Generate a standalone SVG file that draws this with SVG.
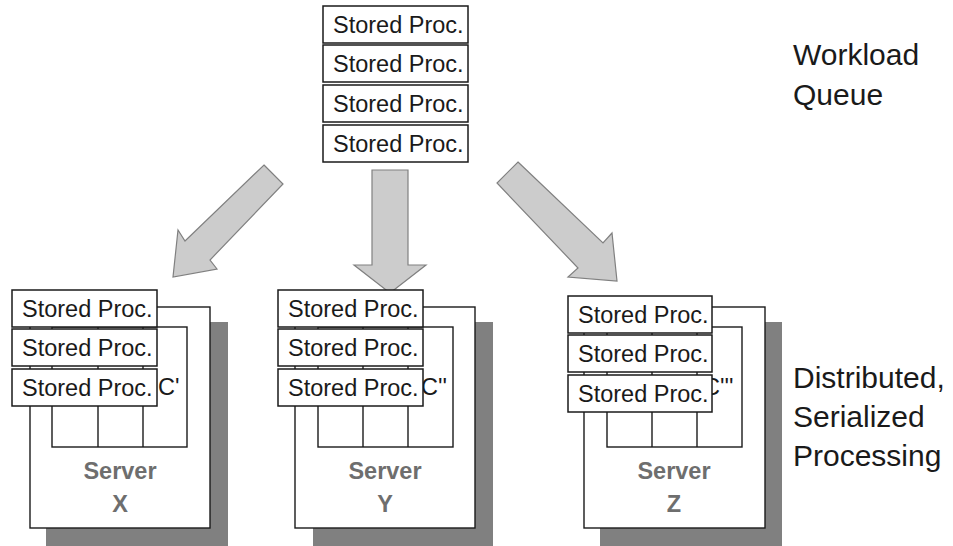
<svg xmlns="http://www.w3.org/2000/svg" width="953" height="546" viewBox="0 0 953 546">
<style>
.bg{fill:#ffffff}
.sp rect{fill:#ffffff;stroke:#1a1a1a;stroke-width:1.5}
.sp text,.lbl{font-family:"Liberation Sans",Arial,sans-serif;fill:#1a1a1a}
.sp text{font-size:23.5px}
.shadow{fill:#808080}
.srv{fill:#ffffff;stroke:#1a1a1a;stroke-width:1.4}
.inner{fill:#ffffff;stroke:#1a1a1a;stroke-width:1.4}
.div{stroke:#1a1a1a;stroke-width:1.4}
.ctext{font-family:"Liberation Sans",Arial,sans-serif;font-size:23.5px;fill:#1a1a1a}
.stxt{font-family:"Liberation Sans",Arial,sans-serif;font-size:23.5px;font-weight:bold;fill:#6e6e6e;text-anchor:middle}
.lbl{font-size:30px}
.arrow{fill:#cccccc;stroke:#808080;stroke-width:1.2;stroke-linejoin:miter}
</style>
<rect class="bg" x="0" y="0" width="953" height="546"/>

<g id="connectors">
  <polygon class="arrow" points="264,165 283,184 210,260 217,269 173,277 178,230 185,241"/>
  <polygon class="arrow" points="372,170 408,170 408,265 426,265 390,293 354,265 372,265"/>
  <polygon class="arrow" points="518,162 603,243 612,233 617,281 568,277 578,268 497,183"/>
</g>

<g id="queue" class="sp">
  <rect x="323" y="6" width="145" height="37"/><text x="333" y="32.5">Stored Proc.</text>
  <rect x="323" y="45" width="145" height="37"/><text x="333" y="71.5">Stored Proc.</text>
  <rect x="323" y="85" width="145" height="37"/><text x="333" y="111.5">Stored Proc.</text>
  <rect x="323" y="125" width="145" height="37"/><text x="333" y="151.5">Stored Proc.</text>
</g>

<g id="serverX">
  <rect class="shadow" x="46" y="322" width="182" height="224"/>
  <rect class="srv" x="30" y="307" width="180" height="221"/>
  <rect class="inner" x="52" y="327" width="135" height="120"/>
  <line class="div" x1="98" y1="327" x2="98" y2="447"/>
  <line class="div" x1="143" y1="327" x2="143" y2="447"/>
  <text class="ctext" x="158" y="395">C'</text>
  <g class="sp">
    <rect x="12" y="290" width="145" height="37"/><text x="22" y="316.5">Stored Proc.</text>
    <rect x="12" y="329" width="145" height="37"/><text x="22" y="355.5">Stored Proc.</text>
    <rect x="12" y="369" width="145" height="37"/><text x="22" y="395.5">Stored Proc.</text>
  </g>
  <text class="stxt" x="120" y="479">Server</text>
  <text class="stxt" x="120" y="512">X</text>
</g>

<g id="serverY">
  <rect class="shadow" x="313" y="322" width="180" height="224"/>
  <rect class="srv" x="295" y="307" width="180" height="221"/>
  <rect class="inner" x="318" y="327" width="135" height="120"/>
  <line class="div" x1="363" y1="327" x2="363" y2="447"/>
  <line class="div" x1="408" y1="327" x2="408" y2="447"/>
  <text class="ctext" x="421" y="395">C''</text>
  <g class="sp">
    <rect x="278" y="290" width="145" height="37"/><text x="288" y="316.5">Stored Proc.</text>
    <rect x="278" y="329" width="145" height="37"/><text x="288" y="355.5">Stored Proc.</text>
    <rect x="278" y="369" width="145" height="37"/><text x="288" y="395.5">Stored Proc.</text>
  </g>
  <text class="stxt" x="385" y="479">Server</text>
  <text class="stxt" x="385" y="512">Y</text>
</g>

<g id="serverZ">
  <rect class="shadow" x="600" y="322" width="182" height="224"/>
  <rect class="srv" x="584" y="307" width="181" height="221"/>
  <rect class="inner" x="607" y="327" width="135" height="120"/>
  <line class="div" x1="652" y1="327" x2="652" y2="447"/>
  <line class="div" x1="697" y1="327" x2="697" y2="447"/>
  <text class="ctext" x="703" y="395">C'''</text>
  <g class="sp">
    <rect x="568" y="296" width="144" height="37"/><text x="578" y="322.5">Stored Proc.</text>
    <rect x="568" y="335" width="144" height="37"/><text x="578" y="361.5">Stored Proc.</text>
    <rect x="568" y="375" width="144" height="37"/><text x="578" y="401.5">Stored Proc.</text>
  </g>
  <text class="stxt" x="674" y="479">Server</text>
  <text class="stxt" x="674" y="512">Z</text>
</g>

<g id="label-queue">
  <text class="lbl" x="793" y="65">Workload</text>
  <text class="lbl" x="793" y="105">Queue</text>
</g>
<g id="label-processing">
  <text class="lbl" x="793" y="388">Distributed,</text>
  <text class="lbl" x="793" y="427">Serialized</text>
  <text class="lbl" x="793" y="466">Processing</text>
</g>
</svg>
